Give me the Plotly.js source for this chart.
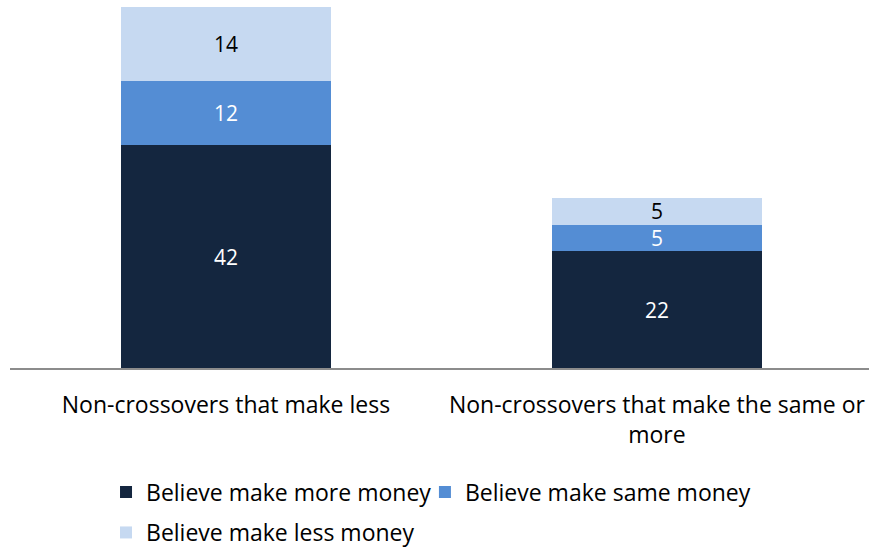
<!DOCTYPE html>
<html><head><meta charset="utf-8">
<script src="https://cdn.plot.ly/plotly-3.0.1.min.js"></script>
<style>html,body{margin:0;padding:0;background:#fff}#chart{width:869px;height:554px}</style>
</head><body><div id="chart"></div>
<script>
const categories = ["Non-crossovers that make less", "Non-crossovers that make the same or<br>more"];
const seriesNames = ["Believe make more money", "Believe make same money", "Believe make less money"];
const moreMoney = [42, 22];
const sameMoney = [12, 5];
const lessMoney = [14, 5];

const FONT = "'Open Sans', sans-serif";
const colors = ["#14263F", "#548DD4", "#C6D9F1"];
const textColors = ["#FFFFFF", "#FFFFFF", "#000000"];
const legends = ["legend", "legend3", "legend2"];
const vals = [moreMoney, sameMoney, lessMoney];

const traces = vals.map((v, i) => ({
  type: "bar",
  name: seriesNames[i],
  x: categories,
  y: v,
  width: 0.487,
  text: v.map(String),
  textposition: "inside",
  insidetextanchor: "middle",
  constraintext: "none",
  cliponaxis: false,
  textangle: 0,
  textfont: {family: FONT, size: 21, color: textColors[i]},
  marker: {color: colors[i], line: {width: 0}},
  legend: legends[i],
  hoverinfo: "none"
}));

const legendBase = {
  orientation: "h", xref: "container", yref: "container", xanchor: "left",
  font: {family: FONT, size: 23, color: "#000"},
  itemwidth: 30, bgcolor: "rgba(0,0,0,0)"
};

const layout = {
  width: 869, height: 554,
  margin: {l: 10, r: 0, t: 7, b: 186, autoexpand: false},
  barmode: "stack",
  paper_bgcolor: "#fff", plot_bgcolor: "#fff",
  font: {family: FONT, size: 23, color: "#000"},
  xaxis: {
    type: "category", range: [-0.501, 1.492],
    showline: true, linecolor: "#8C8C8C", linewidth: 1.5,
    ticks: "", showgrid: false, zeroline: false,
    ticklabelstandoff: 16, automargin: false,
    tickfont: {family: FONT, size: 23, color: "#000"}
  },
  yaxis: {range: [0, 68], visible: false, showgrid: false, zeroline: false},
  legend: Object.assign({}, legendBase, {x: 0.122, y: 0.112, yanchor: "middle"}),
  legend3: Object.assign({}, legendBase, {x: 0.489, y: 0.112, yanchor: "middle"}),
  legend2: Object.assign({}, legendBase, {x: 0.122, y: -0.012, yanchor: "bottom"}),
  showlegend: true
};

Plotly.newPlot("chart", traces, layout, {displayModeBar: false, staticPlot: true});
</script></body></html>
